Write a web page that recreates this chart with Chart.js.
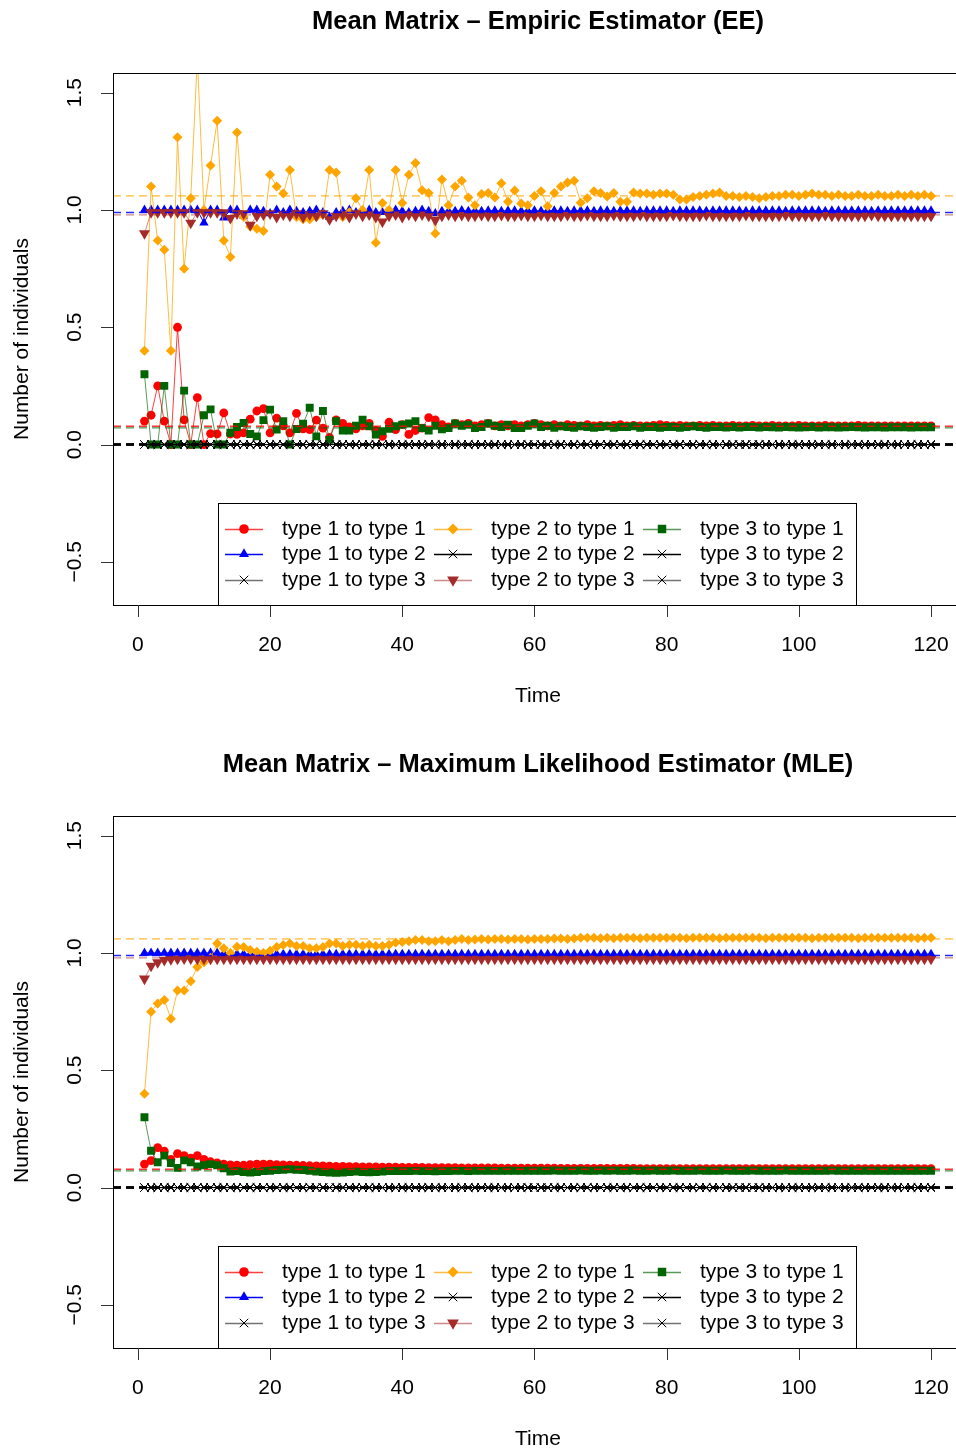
<!DOCTYPE html>
<html>
<head>
<meta charset="utf-8">
<script src="https://cdn.jsdelivr.net/npm/chart.js@4.4.0/dist/chart.umd.min.js"></script>
<style>
body{margin:0;background:#fff;width:956px;height:1452px;overflow:hidden}
.wrap{width:956px;overflow:hidden}
canvas{display:block}
</style>
</head>
<body>
<div class="wrap" style="height:743px"><canvas id="eeChart" width="975" height="743"></canvas></div>
<div class="wrap" style="height:709px"><canvas id="mleChart" width="975" height="709"></canvas></div>
<script>
'use strict';

//------- axes
var time=[1,2,3,4,5,6,7,8,9,10,11,12,13,14,15,16,17,18,19,20,
21,22,23,24,25,26,27,28,29,30,31,32,33,34,35,36,37,38,39,40,
41,42,43,44,45,46,47,48,49,50,51,52,53,54,55,56,57,58,59,60,
61,62,63,64,65,66,67,68,69,70,71,72,73,74,75,76,77,78,79,80,
81,82,83,84,85,86,87,88,89,90,91,92,93,94,95,96,97,98,99,100,
101,102,103,104,105,106,107,108,109,110,111,112,113,114,115,116,117,118,119,120];
var xTicks=[0,20,40,60,80,100,120];
var yTicks=[-0.5,0,0.5,1,1.5];
var yTickLabels=['\u22120.5','0.0','0.5','1.0','1.5'];
var xMin=-3.76, xMax=124.76, yMin=-0.684, yMax=1.584;

var seriesNames=['type 1 to type 1','type 1 to type 2','type 1 to type 3',
'type 2 to type 1','type 2 to type 2','type 2 to type 3',
'type 3 to type 1','type 3 to type 2','type 3 to type 3'];
// dashed reference lines (true means)
var trueMeans=[0.078,0.989,0,1.06,0,0.979,0.071,0,0];

//------- zero series (all the black crosses)
var zeros=[0,0,0,0,0,0,0,0,0,0, 0,0,0,0,0,0,0,0,0,0, 0,0,0,0,0,0,0,0,0,0,
0,0,0,0,0,0,0,0,0,0, 0,0,0,0,0,0,0,0,0,0, 0,0,0,0,0,0,0,0,0,0,
0,0,0,0,0,0,0,0,0,0, 0,0,0,0,0,0,0,0,0,0, 0,0,0,0,0,0,0,0,0,0,
0,0,0,0,0,0,0,0,0,0, 0,0,0,0,0,0,0,0,0,0, 0,0,0,0,0,0,0,0,0,0];

//------- Empiric Estimator
var eeT11=[0.10,0.125,0.25,0.10,0.0,0.50,0.105,0.0,0.20,0.0,
0.047,0.045,0.135,0.045,0.043,0.05,0.108,0.143,0.153,0.05,
0.113,0.08,0.05,0.133,0.067,0.064,0.104,0.07,0.03,0.105,
0.09,0.075,0.067,0.08,0.09,0.06,0.035,0.095,0.064,0.085,
0.043,0.06,0.07,0.115,0.105,0.085,0.075,0.09,0.085,0.09,
0.08,0.085,0.09,0.08,0.085,0.08,0.085,0.08,0.085,0.09,
0.085,0.08,0.085,0.08,0.085,0.082,0.08,0.085,0.08,0.082,
0.08,0.082,0.085,0.08,0.082,0.08,0.08,0.082,0.085,0.082,
0.08,0.082,0.08,0.08,0.082,0.08,0.082,0.08,0.08,0.082,
0.08,0.08,0.082,0.08,0.08,0.082,0.08,0.08,0.08,0.082,
0.08,0.08,0.08,0.082,0.08,0.08,0.08,0.08,0.082,0.08,
0.08,0.08,0.08,0.08,0.08,0.08,0.08,0.08,0.08,0.08];
var eeT12=[1,1,1,1,1,1,1,1,1,0.945,
1,1,0.967,1,1,0.975,1,1,0.995,0.985,
1,0.99,1,0.995,0.99,0.995,1,0.99,0.97,0.99,
0.995,1,0.99,0.995,1,0.99,0.99,0.995,1,0.995,
0.99,0.995,1,0.995,0.985,0.995,0.995,0.995,0.998,0.995,
0.997,0.995,0.997,0.997,0.995,0.997,0.997,0.995,0.997,0.997,
0.995,0.997,0.997,0.997,0.995,0.997,0.997,0.997,0.995,0.997,
0.997,0.995,0.997,0.997,0.997,0.995,0.997,0.997,0.997,0.997,
0.995,0.997,0.997,0.997,0.997,0.995,0.997,0.997,0.997,0.997,
0.997,0.995,0.997,0.997,0.997,0.997,0.997,0.995,0.997,0.997,
0.997,0.997,0.997,0.995,0.997,0.997,0.997,0.997,0.997,0.997,
0.995,0.997,0.997,0.997,0.997,0.997,0.997,0.997,0.997,0.997];
var eeT21=[0.40,1.10,0.87,0.83,0.40,1.31,0.75,1.05,1.65,1.00,
1.19,1.38,0.87,0.80,1.33,0.97,0.93,0.92,0.91,1.15,
1.10,1.07,1.17,0.97,0.96,0.96,0.97,0.98,1.17,1.16,
0.97,0.99,1.05,1.00,1.17,0.86,1.03,1.00,1.17,1.03,
1.15,1.20,1.084,1.072,0.90,1.13,1.02,1.10,1.125,1.053,
1.02,1.068,1.072,1.053,1.114,1.035,1.083,1.028,1.02,1.06,
1.08,1.016,1.072,1.10,1.117,1.125,1.031,1.05,1.08,1.072,
1.057,1.072,1.035,1.035,1.075,1.07,1.07,1.065,1.07,1.07,
1.065,1.045,1.045,1.055,1.06,1.065,1.07,1.075,1.06,1.06,
1.055,1.06,1.055,1.05,1.055,1.06,1.06,1.065,1.065,1.06,
1.065,1.07,1.065,1.065,1.06,1.065,1.06,1.06,1.065,1.06,
1.06,1.065,1.06,1.06,1.065,1.06,1.065,1.06,1.065,1.06];
var eeT23=[0.90,0.99,0.99,0.99,0.99,0.99,0.99,0.945,0.99,0.99,
0.99,0.99,0.99,0.965,0.985,0.985,0.936,0.975,0.98,0.985,
0.97,0.98,0.975,0.985,0.97,0.98,0.975,0.985,0.96,0.975,
0.98,0.97,0.985,0.975,0.98,0.97,0.95,0.975,0.98,0.97,
0.98,0.975,0.98,0.975,0.957,0.975,0.98,0.975,0.978,0.975,
0.975,0.978,0.975,0.975,0.978,0.975,0.975,0.978,0.975,0.975,
0.978,0.975,0.975,0.975,0.978,0.975,0.975,0.978,0.975,0.975,
0.975,0.978,0.975,0.975,0.975,0.978,0.975,0.975,0.975,0.975,
0.978,0.975,0.975,0.975,0.975,0.978,0.975,0.975,0.975,0.975,
0.975,0.978,0.975,0.975,0.975,0.975,0.975,0.978,0.975,0.975,
0.975,0.975,0.975,0.978,0.975,0.975,0.975,0.975,0.975,0.975,
0.978,0.975,0.975,0.975,0.975,0.975,0.975,0.975,0.975,0.975];
var eeT31=[0.30,0,0,0.25,0,0,0.23,0,0,0.125,
0.15,0,0,0.05,0.075,0.092,0.045,0.035,0.104,0.149,
0.064,0.10,0.0,0.066,0.089,0.157,0.035,0.143,0.02,0.10,
0.06,0.06,0.08,0.106,0.078,0.043,0.057,0.067,0.078,0.085,
0.09,0.10,0.07,0.06,0.08,0.065,0.07,0.09,0.08,0.085,
0.07,0.075,0.09,0.08,0.075,0.085,0.07,0.07,0.08,0.09,
0.075,0.08,0.072,0.078,0.075,0.072,0.078,0.075,0.072,0.075,
0.078,0.072,0.075,0.075,0.078,0.072,0.075,0.075,0.072,0.075,
0.075,0.072,0.075,0.078,0.075,0.072,0.075,0.075,0.073,0.075,
0.073,0.075,0.075,0.073,0.075,0.074,0.073,0.075,0.074,0.073,
0.074,0.075,0.073,0.074,0.074,0.073,0.074,0.075,0.074,0.073,
0.074,0.074,0.073,0.074,0.074,0.074,0.073,0.074,0.074,0.074];

//------- Maximum Likelihood Estimator
var mleT11=[0.10,0.115,0.17,0.155,0.12,0.145,0.136,0.125,0.136,0.12,
0.11,0.105,0.10,0.097,0.095,0.095,0.098,0.10,0.10,0.10,
0.098,0.097,0.096,0.095,0.094,0.093,0.092,0.092,0.091,0.09,
0.09,0.089,0.089,0.088,0.088,0.088,0.087,0.087,0.087,0.086,
0.086,0.086,0.086,0.085,0.085,0.085,0.085,0.085,0.084,0.084,
0.084,0.084,0.084,0.084,0.083,0.083,0.083,0.083,0.083,0.083,
0.083,0.083,0.083,0.082,0.082,0.082,0.082,0.082,0.082,0.082,
0.082,0.082,0.082,0.082,0.082,0.081,0.081,0.081,0.081,0.081,
0.081,0.081,0.081,0.081,0.081,0.081,0.081,0.081,0.081,0.081,
0.081,0.081,0.081,0.081,0.081,0.081,0.081,0.081,0.081,0.081,
0.081,0.081,0.081,0.081,0.081,0.081,0.081,0.081,0.081,0.081,
0.081,0.081,0.081,0.081,0.081,0.081,0.081,0.081,0.081,0.081];
var mleT12=[1,1,1,1,1,1,1,1,1,1,
1,1,0.998,0.997,0.996,0.996,0.995,0.995,0.995,0.995,
0.995,0.995,0.995,0.995,0.995,0.995,0.995,0.995,0.995,0.995,
0.995,0.995,0.995,0.995,0.995,0.995,0.995,0.995,0.995,0.995,
0.995,0.995,0.995,0.995,0.995,0.995,0.995,0.995,0.995,0.995,
0.995,0.995,0.995,0.995,0.995,0.995,0.995,0.995,0.995,0.995,
0.995,0.995,0.995,0.995,0.995,0.995,0.995,0.995,0.995,0.995,
0.995,0.995,0.995,0.995,0.995,0.995,0.995,0.995,0.995,0.995,
0.995,0.995,0.995,0.995,0.995,0.995,0.995,0.995,0.995,0.995,
0.995,0.995,0.995,0.995,0.995,0.995,0.995,0.995,0.995,0.995,
0.995,0.995,0.995,0.995,0.995,0.995,0.995,0.995,0.995,0.995,
0.995,0.995,0.995,0.995,0.995,0.995,0.995,0.995,0.995,0.995];
var mleT21=[0.40,0.75,0.785,0.80,0.72,0.84,0.84,0.88,0.94,0.96,
0.98,1.04,1.02,1.0,1.027,1.025,1.013,1.005,1.0,1.01,
1.025,1.034,1.04,1.03,1.03,1.02,1.02,1.025,1.04,1.04,
1.03,1.035,1.035,1.03,1.035,1.03,1.03,1.035,1.045,1.047,
1.05,1.055,1.055,1.05,1.05,1.055,1.05,1.055,1.06,1.055,
1.058,1.06,1.058,1.06,1.06,1.058,1.06,1.06,1.058,1.06,
1.06,1.06,1.062,1.062,1.06,1.062,1.065,1.065,1.065,1.063,
1.065,1.063,1.065,1.065,1.065,1.063,1.065,1.065,1.065,1.065,
1.065,1.065,1.063,1.065,1.065,1.065,1.065,1.063,1.065,1.065,
1.065,1.065,1.065,1.065,1.063,1.065,1.065,1.065,1.065,1.065,
1.065,1.063,1.065,1.065,1.065,1.065,1.065,1.065,1.063,1.065,
1.065,1.065,1.065,1.065,1.065,1.065,1.065,1.063,1.065,1.065];
var mleT23=[0.89,0.945,0.96,0.97,0.973,0.975,0.976,0.976,0.975,0.975,
0.975,0.975,0.975,0.975,0.975,0.975,0.975,0.975,0.975,0.975,
0.975,0.975,0.975,0.975,0.975,0.975,0.975,0.975,0.975,0.975,
0.975,0.975,0.975,0.975,0.975,0.975,0.975,0.975,0.975,0.975,
0.975,0.975,0.975,0.975,0.975,0.975,0.975,0.975,0.975,0.975,
0.975,0.975,0.975,0.975,0.975,0.975,0.975,0.975,0.975,0.975,
0.975,0.975,0.975,0.975,0.975,0.975,0.975,0.975,0.975,0.975,
0.975,0.975,0.975,0.975,0.975,0.975,0.975,0.975,0.975,0.975,
0.975,0.975,0.975,0.975,0.975,0.975,0.975,0.975,0.975,0.975,
0.975,0.975,0.975,0.975,0.975,0.975,0.975,0.975,0.975,0.975,
0.975,0.975,0.975,0.975,0.975,0.975,0.975,0.975,0.975,0.975,
0.975,0.975,0.975,0.975,0.975,0.975,0.975,0.975,0.975,0.975];
var mleT31=[0.30,0.157,0.108,0.136,0.105,0.084,0.116,0.108,0.09,0.095,
0.10,0.095,0.082,0.068,0.07,0.066,0.064,0.066,0.07,0.072,
0.075,0.076,0.078,0.076,0.075,0.072,0.068,0.066,0.064,0.063,
0.064,0.066,0.068,0.066,0.065,0.066,0.068,0.07,0.07,0.07,
0.07,0.071,0.07,0.07,0.069,0.07,0.07,0.071,0.071,0.07,
0.071,0.071,0.072,0.071,0.071,0.072,0.072,0.071,0.072,0.072,
0.072,0.072,0.073,0.072,0.072,0.072,0.073,0.072,0.072,0.073,
0.072,0.073,0.072,0.072,0.073,0.072,0.072,0.073,0.072,0.072,
0.073,0.072,0.072,0.072,0.073,0.072,0.072,0.072,0.073,0.072,
0.072,0.072,0.073,0.072,0.072,0.072,0.072,0.073,0.072,0.072,
0.072,0.072,0.072,0.072,0.073,0.072,0.072,0.072,0.072,0.072,
0.072,0.072,0.072,0.072,0.072,0.072,0.072,0.072,0.072,0.072];

//------- looks of the nine series (R colours / pch)
var looks=[
  {col:'#ff0000', line:'rgba(255,0,0,0.75)', shape:'circle', r:4.4, rot:0},
  {col:'#0000ff', line:'#0000ff', shape:'triangle', r:5.4, rot:0},
  {col:'#000000', line:'rgba(0,0,0,0.55)', shape:'crossRot', r:5.6, rot:0},
  {col:'#ffa500', line:'rgba(255,165,0,0.75)', shape:'rectRot', r:5, rot:0},
  {col:'#000000', line:'#000000', shape:'crossRot', r:5.6, rot:0},
  {col:'#a52a2a', line:'rgba(165,42,42,0.55)', shape:'triangle', r:6.4, rot:180},
  {col:'#006400', line:'rgba(0,100,0,0.65)', shape:'rect', r:5.6, rot:0},
  {col:'#000000', line:'#000000', shape:'crossRot', r:5.6, rot:0},
  {col:'#000000', line:'rgba(0,0,0,0.55)', shape:'crossRot', r:5.6, rot:0}
];
var dashCols=['rgba(255,0,0,0.8)','rgba(0,0,255,0.85)','#000','rgba(255,165,0,0.8)','#000',
  'rgba(165,42,42,0.55)','rgba(0,100,0,0.7)','#000','#000'];

var FONT='21px "Liberation Sans", Arial, Helvetica, sans-serif';
var BOLD='bold 25.5px "Liberation Sans", Arial, Helvetica, sans-serif';

//------- frame, axes, titles and legend drawn R-style
var rFrame={
  id:'rFrame',
  afterDraw:function(chart,args,opts){
    var c=chart.ctx, a=chart.chartArea, sx=chart.scales.x, sy=chart.scales.y;
    var L=Math.round(a.left), T=Math.round(a.top), R=Math.round(a.right), B=Math.round(a.bottom);
    c.save();
    c.strokeStyle='#000'; c.lineWidth=1;
    c.strokeRect(L+0.5,T+0.5,R-L,B-T);
    c.beginPath();
    xTicks.forEach(function(v){
      var px=Math.round(sx.getPixelForValue(v))+0.5;
      c.moveTo(px,B); c.lineTo(px,B+12);
    });
    yTicks.forEach(function(v){
      var py=Math.round(sy.getPixelForValue(v))+0.5;
      c.moveTo(L,py); c.lineTo(L-12,py);
    });
    c.strokeStyle='#333'; c.stroke();

    c.fillStyle='#000'; c.font=FONT; c.textAlign='center'; c.textBaseline='middle';
    xTicks.forEach(function(v){
      c.fillText(String(v), sx.getPixelForValue(v), B+40);
    });
    yTicks.forEach(function(v,i){
      c.save(); c.translate(L-38, sy.getPixelForValue(v)); c.rotate(-Math.PI/2);
      c.fillText(yTickLabels[i],0,0); c.restore();
    });
    c.save(); c.translate(22,(T+B)/2); c.rotate(-Math.PI/2);
    c.fillText('Number of individuals',0,0); c.restore();
    c.fillText('Time',(L+R)/2,B+91);
    c.font=BOLD;
    c.fillText(opts.title,(L+R)/2,T-51);

    // legend box
    c.fillStyle='#fff'; c.fillRect(218,B-102,638,102);
    c.strokeStyle='#000'; c.strokeRect(218.5,B-101.5,638,102);
    c.font=FONT; c.textAlign='left';
    var colX=[218,427,636], rowY=[B-76,B-51,B-25];
    seriesNames.forEach(function(name,i){
      var lk=looks[i], x0=colX[Math.floor(i/3)], y0=rowY[i%3];
      c.strokeStyle=lk.line; c.lineWidth=1.5;
      c.beginPath(); c.moveTo(x0+7,y0+0.5); c.lineTo(x0+45,y0+0.5); c.stroke();
      c.fillStyle=lk.col; c.strokeStyle=lk.col; c.lineWidth=1;
      Chart.helpers.drawPoint(c,{pointStyle:lk.shape,radius:lk.r+0.4,rotation:lk.rot,
        borderWidth:lk.shape==='crossRot'?1:0},x0+26,y0);
      c.fillStyle='#000';
      c.fillText(name,x0+64,y0);
    });
    c.restore();
  }
};

function makeChart(id,title,list,padBottom){
  var ds=[];
  list.forEach(function(vals,i){
    var lk=looks[i];
    ds.push({
      label:seriesNames[i],
      data:time.map(function(t,j){return {x:t,y:vals[j]};}),
      borderColor:lk.line, borderWidth:1,
      pointStyle:lk.shape, pointRadius:lk.r, pointRotation:lk.rot,
      pointBackgroundColor:lk.col, pointBorderColor:lk.col,
      pointBorderWidth:lk.shape==='crossRot'?1:0,
      tension:0, order:20-i
    });
  });
  trueMeans.forEach(function(m,i){
    ds.push({
      data:[{x:xMin,y:m},{x:xMax,y:m}],
      borderColor:dashCols[i], borderWidth:m===0?2:1.4, borderDash:[8,5],
      pointRadius:0, order:i===2?0:1
    });
  });
  return new Chart(document.getElementById(id),{
    type:'line',
    data:{datasets:ds},
    options:{
      responsive:false, animation:false, events:[],
      layout:{padding:{left:113,top:73,right:12.5,bottom:padBottom}},
      scales:{
        x:{type:'linear',min:xMin,max:xMax,display:false},
        y:{type:'linear',min:yMin,max:yMax,display:false}
      },
      plugins:{legend:{display:false},tooltip:{enabled:false},title:{display:false},
        rFrame:{title:title}}
    },
    plugins:[rFrame]
  });
}

makeChart('eeChart','Mean Matrix \u2013 Empiric Estimator (EE)',
  [eeT11,eeT12,zeros,eeT21,zeros,eeT23,eeT31,zeros,zeros],138);
makeChart('mleChart','Mean Matrix \u2013 Maximum Likelihood Estimator (MLE)',
  [mleT11,mleT12,zeros,mleT21,zeros,mleT23,mleT31,zeros,zeros],104);
</script>
</body>
</html>
